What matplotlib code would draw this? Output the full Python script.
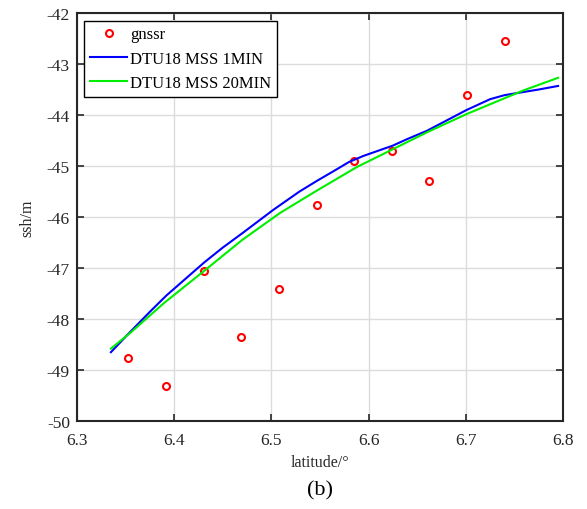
import numpy as np
import matplotlib
matplotlib.use("Agg")
import matplotlib.pyplot as plt

plt.rcParams['font.family'] = ['Liberation Serif', 'DejaVu Serif']
plt.rcParams['axes.unicode_minus'] = False

# gnssr observations
gnssr_lat = [6.353, 6.392, 6.431, 6.469, 6.508, 6.547, 6.585, 6.624, 6.662, 6.701, 6.740]
gnssr_ssh = [-48.77, -49.31, -47.06, -48.35, -47.42, -45.76, -44.90, -44.70, -45.29, -43.60, -42.54]

# DTU18 MSS 1MIN
mss1_lat = [6.335, 6.355, 6.375, 6.392, 6.410, 6.431, 6.450, 6.470, 6.502, 6.529, 6.547,
            6.565, 6.580, 6.595, 6.610, 6.625, 6.640, 6.660, 6.680, 6.701, 6.725, 6.740,
            6.759, 6.775, 6.795]
mss1_ssh = [-48.65, -48.25, -47.86, -47.54, -47.24, -46.89, -46.60, -46.32, -45.86, -45.50, -45.29,
            -45.09, -44.92, -44.80, -44.70, -44.60, -44.47, -44.31, -44.11, -43.90, -43.69, -43.61,
            -43.55, -43.50, -43.43]

# DTU18 MSS 20MIN
mss20_lat = [6.335, 6.355, 6.390, 6.430, 6.470, 6.509, 6.547, 6.588, 6.624, 6.660, 6.701, 6.759, 6.795]
mss20_ssh = [-48.58, -48.27, -47.68, -47.07, -46.45, -45.92, -45.48, -45.02, -44.68, -44.34, -43.98, -43.52, -43.27]

fig = plt.figure(figsize=(5.87, 5.10), dpi=100)
ax = fig.add_axes([0.131, 0.1725, 0.828, 0.80])

ax.plot(gnssr_lat, gnssr_ssh, 'o', mfc='none', mec='red', mew=1.5, ms=5, label='gnssr')
ax.plot(mss1_lat, mss1_ssh, color='#0000ff', lw=1.5, label='DTU18 MSS 1MIN')
ax.plot(mss20_lat, mss20_ssh, color='#00ee00', lw=1.5, label='DTU18 MSS 20MIN')

ax.set_xlim(6.3, 6.8)
ax.set_ylim(-50, -42)
ax.set_xticks(np.arange(6.3, 6.81, 0.1))
ax.set_xticklabels(['6.3', '6.4', '6.5', '6.6', '6.7', '6.8'])
ax.set_yticks(range(-50, -41))
ax.grid(True, color='#dcdcdc', lw=1)
ax.set_axisbelow(True)
ax.tick_params(direction='in', top=True, right=True, labelsize=12.5, colors='#262626', length=5, width=1.2)
ax.tick_params(axis='x', pad=8)
ax.tick_params(axis='y', pad=5)
for s in ax.spines.values():
    s.set_linewidth(1.5)
    s.set_color('#262626')

ax.set_xlabel('latitude/°', fontsize=11.5, color='#262626', labelpad=4)
ax.set_ylabel('ssh/m', fontsize=11.5, color='#262626', labelpad=8)

leg = ax.legend(loc='upper left', fontsize=12, fancybox=False, framealpha=1,
                edgecolor='black', handlelength=2.2, handletextpad=0.2,
                borderpad=0.35, labelspacing=0.5, borderaxespad=0.45)
leg.get_frame().set_linewidth(1.0)

fig.text(0.545, 0.038, '(b)', fontsize=16, ha='center', va='center')

fig.savefig('out.png', dpi=100)
